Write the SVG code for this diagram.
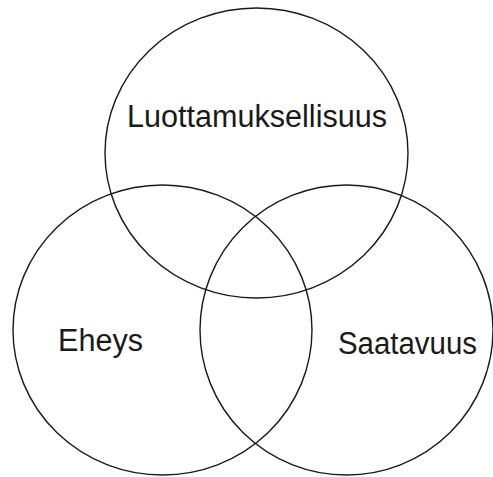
<svg xmlns="http://www.w3.org/2000/svg" width="493" height="477" viewBox="0 0 493 477">
<style>
.c{fill:none;stroke:#1a1a1a;stroke-width:1.4}
.t{font-family:"Liberation Sans",Arial,sans-serif;font-size:31px;fill:#1a1a1a}
</style>
<rect width="493" height="477" fill="#fff"/>
<g id="connectors"></g>
<g id="luottamuksellisuus">
<ellipse class="c" cx="256.5" cy="153" rx="151.5" ry="145"/>
<text class="t" x="127" y="127" textLength="260" lengthAdjust="spacingAndGlyphs">Luottamuksellisuus</text>
</g>
<g id="eheys">
<ellipse class="c" cx="162.5" cy="330" rx="149.5" ry="145"/>
<text class="t" x="58" y="351" textLength="85" lengthAdjust="spacingAndGlyphs">Eheys</text>
</g>
<g id="saatavuus">
<ellipse class="c" cx="346.5" cy="330" rx="146.5" ry="145"/>
<text class="t" x="338" y="354" textLength="139" lengthAdjust="spacingAndGlyphs">Saatavuus</text>
</g>
</svg>
